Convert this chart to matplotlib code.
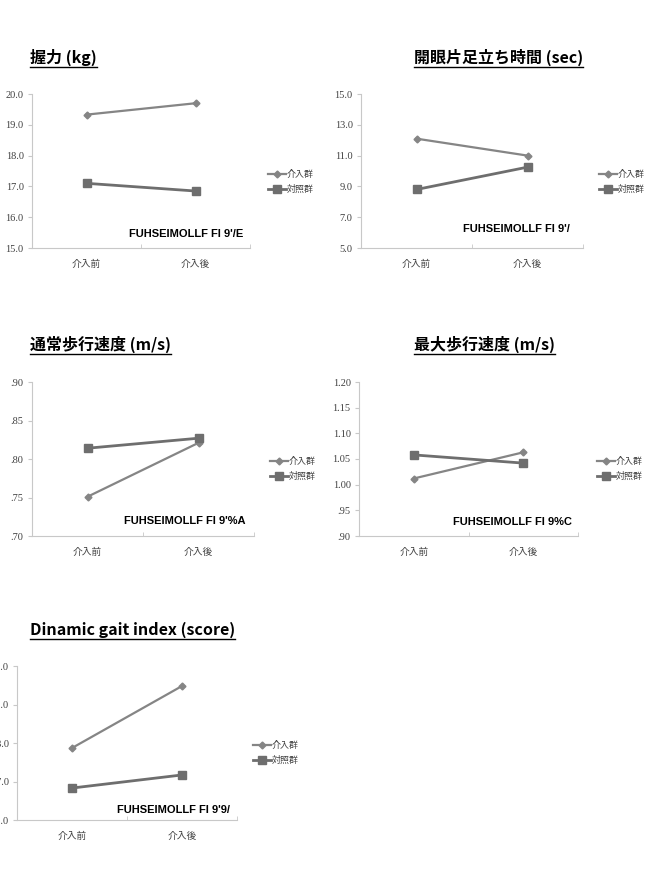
import matplotlib
matplotlib.use("Agg")
import matplotlib.pyplot as plt
from matplotlib.lines import Line2D

plt.rcParams['font.family'] = ['Noto Sans CJK JP', 'DejaVu Sans']

cats = ['介入前', '介入後']
groups = ['介入群', '対照群']

titles = ['握力 (kg)', '開眼片足立ち時間 (sec)', '通常歩行速度 (m/s)',
          '最大歩行速度 (m/s)', 'Dinamic gait index (score)']

grip_int = [19.33, 19.70]
grip_ctl = [17.10, 16.85]
stand_int = [12.1, 11.0]
stand_ctl = [8.8, 10.25]
walk_int = [0.751, 0.821]
walk_ctl = [0.814, 0.827]
maxwalk_int = [1.012, 1.063]
maxwalk_ctl = [1.058, 1.042]
dgi_int = [17.87, 19.48]
dgi_ctl = [16.83, 17.17]

yticks_grip = [15.0, 16.0, 17.0, 18.0, 19.0, 20.0]
yticks_stand = [5.0, 7.0, 9.0, 11.0, 13.0, 15.0]
yticks_walk = [0.70, 0.75, 0.80, 0.85, 0.90]
yticks_maxwalk = [0.90, 0.95, 1.00, 1.05, 1.10, 1.15, 1.20]
yticks_dgi = [16.0, 17.0, 18.0, 19.0, 20.0]

notes = ["FUHSEIMOLLF Fl 9'/E", "FUHSEIMOLLF Fl 9'/", "FUHSEIMOLLF Fl 9'%A",
         "FUHSEIMOLLF Fl 9%C", "FUHSEIMOLLF Fl 9'9/"]

W, H = 646, 871
fig = plt.figure(figsize=(W / 100, H / 100), dpi=100)

# (axes left, top, right, bottom, title x, title y, note x, note y, legend x, legend y) in pixels
layout = [
    (32, 94, 250, 248, 30, 57, 243, 234, 263, 182),
    (361, 94, 583, 248, 414, 57, 570, 229, 594, 182),
    (32, 382, 254, 536, 30, 344, 245, 521, 265, 469),
    (359, 382, 578, 536, 414, 344, 572, 522, 592, 469),
    (17, 666, 237, 820, 30, 630, 230, 810, 248, 753),
]
series = [(grip_int, grip_ctl, yticks_grip, '%.1f'),
          (stand_int, stand_ctl, yticks_stand, '%.1f'),
          (walk_int, walk_ctl, yticks_walk, 'dot'),
          (maxwalk_int, maxwalk_ctl, yticks_maxwalk, 'dot'),
          (dgi_int, dgi_ctl, yticks_dgi, '%.1f')]


def fmt(v, f):
    if f == 'dot':
        s = '%.2f' % v
        return s[1:] if s.startswith('0') else s
    return f % v


fig.canvas.draw()
renderer = fig.canvas.get_renderer()

for (l, t, r, b, tx, ty, nx, ny, lx, ly), (yi, yc, yt, f), title, note in zip(layout, series, titles, notes):
    ax = fig.add_axes([l / W, 1 - b / H, (r - l) / W, (b - t) / H])
    x = [0, 1]
    ax.plot(x, yi, color='#858585', lw=1.6, marker='D', ms=3.5, label=groups[0])
    ax.plot(x, yc, color='#6e6e6e', lw=2.0, marker='s', ms=6, label=groups[1])
    ax.set_xlim(-0.5, 1.5)
    ax.set_ylim(yt[0], yt[-1])
    ax.set_yticks(yt)
    ax.set_yticklabels([fmt(v, f) for v in yt], fontsize=7.5, color='#404040',
                       family=['Liberation Serif', 'DejaVu Serif'])
    ax.set_xticks(x)
    ax.set_xticklabels(cats, fontsize=7, color='#404040')
    ax.set_xticks([-0.5, 0.5, 1.5], minor=True)
    ax.tick_params(axis='x', which='major', length=0, pad=8)
    ax.tick_params(axis='x', which='minor', length=3, color='#c8c8c8', direction='in')
    ax.tick_params(axis='y', length=3, color='#c8c8c8', pad=3)
    for s in ['top', 'right']:
        ax.spines[s].set_visible(False)
    for s in ['left', 'bottom']:
        ax.spines[s].set_color('#c8c8c8')
        ax.spines[s].set_linewidth(0.8)
    ax.legend(loc='center left', bbox_to_anchor=(lx / W, 1 - ly / H), bbox_transform=fig.transFigure,
              frameon=False, fontsize=6.5, handlelength=2.0, handletextpad=0.15, labelspacing=0.6,
              borderpad=0, labelcolor='#404040')
    fig.text(nx / W, 1 - ny / H, note, ha='right', va='center', fontsize=8, fontweight='bold',
             family=['DejaVu Sans Condensed', 'Liberation Sans'], color='black')
    ttxt = fig.text(tx / W, 1 - ty / H, title, ha='left', va='center', fontsize=11.5,
                    fontweight='bold', color='black')
    bb = ttxt.get_window_extent(renderer=renderer)
    yline = (bb.y0 - 1) / H
    fig.add_artist(Line2D([bb.x0 / W, bb.x1 / W], [yline, yline], color='black', lw=1.0))

fig.savefig('out.png', dpi=100, facecolor='white')
